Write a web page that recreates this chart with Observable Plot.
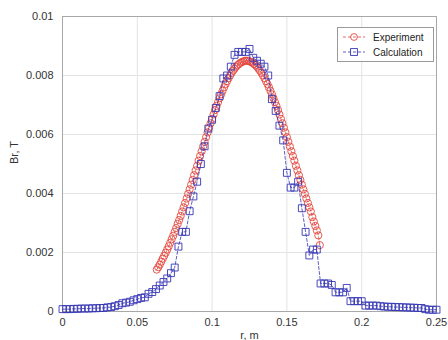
<!DOCTYPE html>
<html>
<head>
<meta charset="utf-8">
<script src="https://cdn.jsdelivr.net/npm/d3@7"></script>
<script src="https://cdn.jsdelivr.net/npm/@observablehq/plot@0.6"></script>
<style>
  html, body { margin: 0; padding: 0; background: #fff; }
  #wrap { position: relative; width: 448px; height: 340px; overflow: hidden; font-family: "Liberation Sans", Arial, sans-serif; }
  #legend { position: absolute; left: 337px; top: 27px; width: 95px; height: 33px; border: 1px solid #9a9a9a; background: #fff; font-size: 10px; color: #222; }
  .row { position: absolute; left: 4px; height: 14px; display: flex; align-items: center; }
  .row svg { margin-right: 6px; }
</style>
</head>
<body>
<div id="wrap"></div>
<script>
// ---- Data ----
const xTicks = [0, 0.05, 0.1, 0.15, 0.2, 0.25];
const yTicks = [0, 0.002, 0.004, 0.006, 0.008, 0.01];

const expR = [0.063,0.064,0.065,0.066,0.067,0.068,0.069,0.070,0.071,0.072,0.073,0.074,0.075,0.076,0.077,0.078,0.079,0.080,0.081,0.082,
  0.083,0.084,0.085,0.086,0.087,0.088,0.089,0.090,0.091,0.092,0.093,0.094,0.095,0.096,0.097,0.098,0.099,0.100,0.101,0.102,
  0.103,0.104,0.105,0.106,0.107,0.108,0.109,0.110,0.111,0.112,0.113,0.114,0.115,0.116,0.117,0.118,0.119,0.120,0.121,0.122,
  0.123,0.124,0.125,0.126,0.127,0.128,0.129,0.130,0.131,0.132,0.133,0.134,0.135,0.136,0.137,0.138,0.139,0.140,0.141,0.142,
  0.143,0.144,0.145,0.146,0.147,0.148,0.149,0.150,0.151,0.152,0.153,0.154,0.155,0.156,0.157,0.158,0.159,0.160,0.161,0.162,
  0.163,0.164,0.165,0.166,0.167,0.168,0.169,0.170,0.171,0.172];
const expB = [0.00142,0.00150,0.00159,0.00169,0.00179,0.00189,0.00199,0.00210,0.00221,0.00233,0.00245,0.00257,0.00270,0.00283,0.00297,0.00310,0.00324,0.00339,0.00353,0.00368,
  0.00383,0.00399,0.00414,0.00430,0.00446,0.00462,0.00478,0.00494,0.00511,0.00527,0.00543,0.00559,0.00575,0.00591,0.00607,0.00623,0.00638,0.00653,0.00668,0.00683,
  0.00697,0.00710,0.00723,0.00736,0.00748,0.00760,0.00771,0.00781,0.00791,0.00800,0.00809,0.00816,0.00823,0.00830,0.00835,0.00839,0.00843,0.00846,0.00848,0.00850,
  0.00850,0.00850,0.00848,0.00846,0.00843,0.00839,0.00835,0.00830,0.00823,0.00816,0.00809,0.00800,0.00791,0.00781,0.00771,0.00760,0.00748,0.00736,0.00723,0.00710,
  0.00697,0.00683,0.00668,0.00653,0.00638,0.00623,0.00607,0.00591,0.00575,0.00559,0.00543,0.00527,0.00511,0.00494,0.00478,0.00462,0.00446,0.00430,0.00414,0.00399,
  0.00383,0.00368,0.00353,0.00339,0.00320,0.00305,0.00290,0.00275,0.00258,0.00225];

const calcR = [0,0.0025,0.005,0.0075,0.01,0.0125,0.015,0.0175,0.02,0.0225,0.025,0.0275,0.03,0.0325,0.035,0.0375,0.04,0.0425,0.045,0.0475,
  0.05,0.0525,0.055,0.0575,0.06,0.0625,0.065,0.0675,0.07,0.0725,0.075,0.0775,0.08,0.0825,0.085,0.0875,0.09,0.0925,0.095,0.0975,
  0.1,0.1025,0.105,0.1075,0.11,0.1125,0.115,0.1175,0.12,0.1225,0.125,0.1275,0.13,0.1325,0.135,0.1375,0.14,0.1425,0.145,0.1475,
  0.15,0.1525,0.155,0.1575,0.16,0.1625,0.165,0.1675,0.17,0.1725,0.175,0.1775,0.18,0.1825,0.185,0.1875,0.19,0.1925,0.195,0.1975,
  0.2,0.2025,0.205,0.2075,0.21,0.2125,0.215,0.2175,0.22,0.2225,0.225,0.2275,0.23,0.2325,0.235,0.2375,0.24,0.2425,0.245,0.2475,0.25];
const calcB = [0.00008,0.00008,0.00008,0.00009,0.00009,0.0001,0.0001,0.0001,0.00011,0.00011,0.00012,0.00012,0.00014,0.00015,0.00018,0.00022,0.00028,0.0003,0.00033,0.00038,
  0.00042,0.00046,0.00048,0.0006,0.00066,0.00076,0.00088,0.001,0.00112,0.0013,0.00149,0.0022,0.0027,0.0027,0.0034,0.0039,0.0044,0.005,0.0056,0.0062,
  0.0065,0.0069,0.0073,0.0079,0.008,0.0083,0.0087,0.0088,0.0088,0.0088,0.0089,0.0086,0.0085,0.0084,0.0083,0.008,0.0072,0.0068,0.0063,0.0058,
  0.0047,0.0042,0.0042,0.0044,0.0035,0.0027,0.0019,0.0021,0.0021,0.00095,0.00095,0.00095,0.0009,0.00065,0.00065,0.00065,0.0008,0.00035,0.00035,0.00035,
  0.00035,0.0002,0.0002,0.0002,0.0002,0.00018,0.00017,0.00016,0.00016,0.00015,0.00015,0.00014,0.00014,0.00013,0.00013,0.00012,0.00012,0.00008,0.00006,0.00006,0.00006];

const seriesNames = ["Experiment", "Calculation"];
const xLabel = "r, m";
const yLabel = "Br, T";

// ---- Build ----
const expData = expR.map((r, i) => ({r, b: expB[i]}));
const calcData = calcR.map((r, i) => ({r, b: calcB[i]}));
const RED = "#e4473f", BLUE = "#3535b5";

const chart = Plot.plot({
  width: 448, height: 340,
  marginLeft: 62, marginRight: 12, marginTop: 16, marginBottom: 29,
  style: {fontFamily: '"Liberation Sans", Arial, sans-serif', fontSize: "11px", color: "#333", background: "#fff"},
  x: {domain: [0, 0.25]},
  y: {domain: [0, 0.01]},
  marks: [
    Plot.gridX(xTicks, {stroke: "#e3e3e3", strokeOpacity: 1}),
    Plot.gridY(yTicks, {stroke: "#e3e3e3", strokeOpacity: 1}),
    Plot.frame({stroke: "#a8a8a8"}),
    Plot.axisX(xTicks, {tickSize: 0, tickPadding: 7, tickFormat: d => String(d), label: null, fontSize: 11}),
    Plot.axisY(yTicks, {tickSize: 0, tickPadding: 9, tickFormat: d => String(d), label: null, fontSize: 11}),
    Plot.text([xLabel], {frameAnchor: "bottom", dy: 27, lineAnchor: "bottom", fontSize: 11, fill: "#333"}),
    Plot.text([yLabel], {frameAnchor: "left", dx: -48, rotate: -90, fontSize: 11, fill: "#333"}),
    Plot.line(expData, {x: "r", y: "b", stroke: RED, strokeWidth: 0.8, strokeDasharray: "3,2"}),
    Plot.dot(expData, {x: "r", y: "b", symbol: "circle", r: 3.6, stroke: RED, fill: "none", strokeWidth: 0.9}),
    Plot.line(calcData, {x: "r", y: "b", stroke: BLUE, strokeWidth: 0.8, strokeDasharray: "3,2"}),
    Plot.dot(calcData, {x: "r", y: "b", symbol: "square", r: 3.9, stroke: BLUE, fill: "none", strokeWidth: 0.9})
  ]
});

const wrap = document.getElementById("wrap");
wrap.appendChild(chart);

// Legend
const legend = document.createElement("div");
legend.id = "legend";
const colors = [RED, BLUE];
seriesNames.forEach((name, i) => {
  const row = document.createElement("div");
  row.className = "row";
  row.style.top = (i === 0 ? 2 : 17) + "px";
  const marker = i === 0
    ? `<circle cx="12" cy="5" r="3.4" fill="none" stroke="${colors[i]}" stroke-width="0.9"/>`
    : `<rect x="8.6" y="1.6" width="6.8" height="6.8" fill="none" stroke="${colors[i]}" stroke-width="0.9"/>`;
  row.innerHTML = `<svg width="25" height="10"><line x1="1" y1="5" x2="23" y2="5" stroke="${colors[i]}" stroke-width="0.8" stroke-dasharray="3,2"/>${marker}</svg><span>${name}</span>`;
  legend.appendChild(row);
});
wrap.appendChild(legend);
</script>
</body>
</html>
